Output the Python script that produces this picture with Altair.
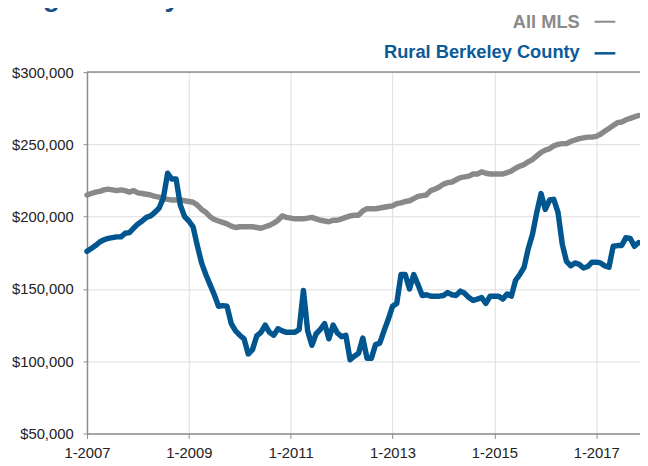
import altair as alt
import pandas as pd

start_year = 2007
all_mls = [
    215, 216, 217, 217.5, 218.5, 219, 218.5, 218, 218.5, 218, 217, 218,
    216.5, 216, 215.5, 215, 214, 213.5, 212.5, 212, 211.5, 211.5, 211.5, 211,
    210.5, 210, 208, 205, 203, 200, 198, 197, 196, 195, 193.5, 192.5,
    193, 193, 193, 193, 192.5, 192, 193, 194, 195.5, 197.5, 200.5, 199.5,
    199, 198.5, 198.5, 198.5, 199, 199.5, 198.5, 197.5, 197, 196.5, 197.5, 197.5,
    198.5, 199.5, 200.5, 201, 201, 204, 205.5, 205.5, 205.5, 206, 206.5, 207,
    207.5, 209, 209.5, 210.5, 211, 212.5, 214, 214.5, 215, 218, 219, 220.5,
    222.5, 223.5, 224, 225.5, 227, 227.5, 228, 229.5, 229.5, 231, 230, 229.5,
    229.5, 229.5, 229.5, 230.5, 231.5, 233.5, 235, 236, 238, 239.5, 242, 244.5,
    246, 247, 249, 250, 250.5, 250.5, 252, 253, 254, 254.5, 255, 255,
    255.5, 257, 259, 261, 263, 265, 265.5, 267, 268, 269, 270,
]
rural_berkeley = [
    176, 178, 180, 182.5, 184, 185, 185.5, 186, 186, 188.5, 189, 192,
    195, 197, 199.5, 200.5, 203, 206, 213, 230, 226, 226, 208, 200,
    197, 193, 180, 168, 160, 153, 146, 138, 138.5, 138, 126, 121,
    118, 115.5, 105, 108, 117.5, 120, 125, 120, 118, 122.5, 121, 120,
    120, 120, 122, 149, 121, 111, 119, 122, 126, 115.5, 125, 119.5,
    117, 118, 101, 103.5, 105.5, 116, 102, 102, 111.5, 112.5, 121, 129,
    138, 140, 160, 160, 150, 160, 153, 145.5, 146, 145, 145, 145,
    145.5, 147.5, 146, 145.5, 148.5, 147, 144, 142, 143, 144, 140, 145,
    145, 145, 143, 146.5, 145, 156, 160, 165, 178, 188, 203, 216,
    205, 211.5, 212, 203, 181, 169, 166, 168, 167, 164.5, 165.5, 168.5,
    168.5, 168, 166, 165, 179.5, 180, 180, 185.5, 185, 179.5, 182,
]
x_ticks = [2007, 2009, 2011, 2013, 2015, 2017]
y_ticks = [50000, 100000, 150000, 200000, 250000, 300000]
series_names = ["All MLS", "Rural Berkeley County"]
title_text = "Single-Family Detached"

GRAY = "#898989"
BLUE = "#02568f"
W, H = 560, 366

def frame(vals):
    return pd.DataFrame({
        "t": [start_year + i / 12 for i in range(len(vals))],
        "v": [v * 1000 for v in vals],
    })

x_enc = alt.X(
    "t:Q",
    scale=alt.Scale(domain=[2007, 2017.86], nice=False, zero=False),
    axis=alt.Axis(
        values=x_ticks, labelExpr="'1-' + datum.value", title=None,
        tickSize=5, labelPadding=7, labelFlush=False, labelOverlap=False,
        grid=True,
    ),
)
y_enc = alt.Y(
    "v:Q",
    scale=alt.Scale(domain=[50000, 300000], nice=False, zero=False),
    axis=alt.Axis(
        values=y_ticks, format="$,.0f", title=None,
        tickSize=4, labelPadding=10, grid=True,
    ),
)

gray_line = alt.Chart(frame(all_mls)).mark_line(
    color=GRAY, strokeWidth=5.5, strokeJoin="round", strokeCap="round"
).encode(x=x_enc, y=y_enc)

blue_line = alt.Chart(frame(rural_berkeley)).mark_line(
    color=BLUE, strokeWidth=5.5, strokeJoin="round", strokeCap="round"
).encode(x=x_enc, y=y_enc)

top_rule = alt.Chart().mark_rule(color="#8c8c8c", strokeWidth=1.5).encode(
    x=alt.value(0), x2=alt.value(W), y=alt.value(0)
)

legend_font = "Liberation Sans"
leg1 = alt.Chart().mark_text(
    align="right", baseline="middle", font=legend_font, fontSize=18.5,
    fontWeight="bold", color="#8a8a8a"
).encode(x=alt.value(499), y=alt.value(-51), text=alt.value(series_names[0]))
leg2 = alt.Chart().mark_text(
    align="right", baseline="middle", font=legend_font, fontSize=18.5,
    fontWeight="bold", color="#0b5a9a"
).encode(x=alt.value(499), y=alt.value(-20), text=alt.value(series_names[1]))
dash1 = alt.Chart().mark_rule(color=GRAY, strokeWidth=2).encode(
    x=alt.value(514), x2=alt.value(535), y=alt.value(-51)
)
dash2 = alt.Chart().mark_rule(color=BLUE, strokeWidth=2.5).encode(
    x=alt.value(514), x2=alt.value(535), y=alt.value(-19)
)
title = alt.Chart().mark_text(
    align="left", baseline="alphabetic", font="Liberation Sans", fontSize=28,
    fontWeight="bold", color="#1b4f86"
).encode(x=alt.value(-88), y=alt.value(-67), text=alt.value(title_text))

chart = alt.layer(
    gray_line, blue_line, top_rule, leg1, leg2, dash1, dash2, title
).properties(
    width=W, height=H,
    autosize=alt.AutoSizeParams(type="none"),
    padding={"left": 80, "top": 62, "right": 0, "bottom": 30},
).configure_view(stroke=None).configure_axis(
    labelFont="Liberation Sans", labelFontSize=15, labelColor="#222222",
    domainColor="#8c8c8c", tickColor="#8c8c8c", gridColor="#dddddd",
    gridWidth=1, domainWidth=1.5,
)

chart.save("out.html", embed_options={"renderer": "svg", "actions": False})
